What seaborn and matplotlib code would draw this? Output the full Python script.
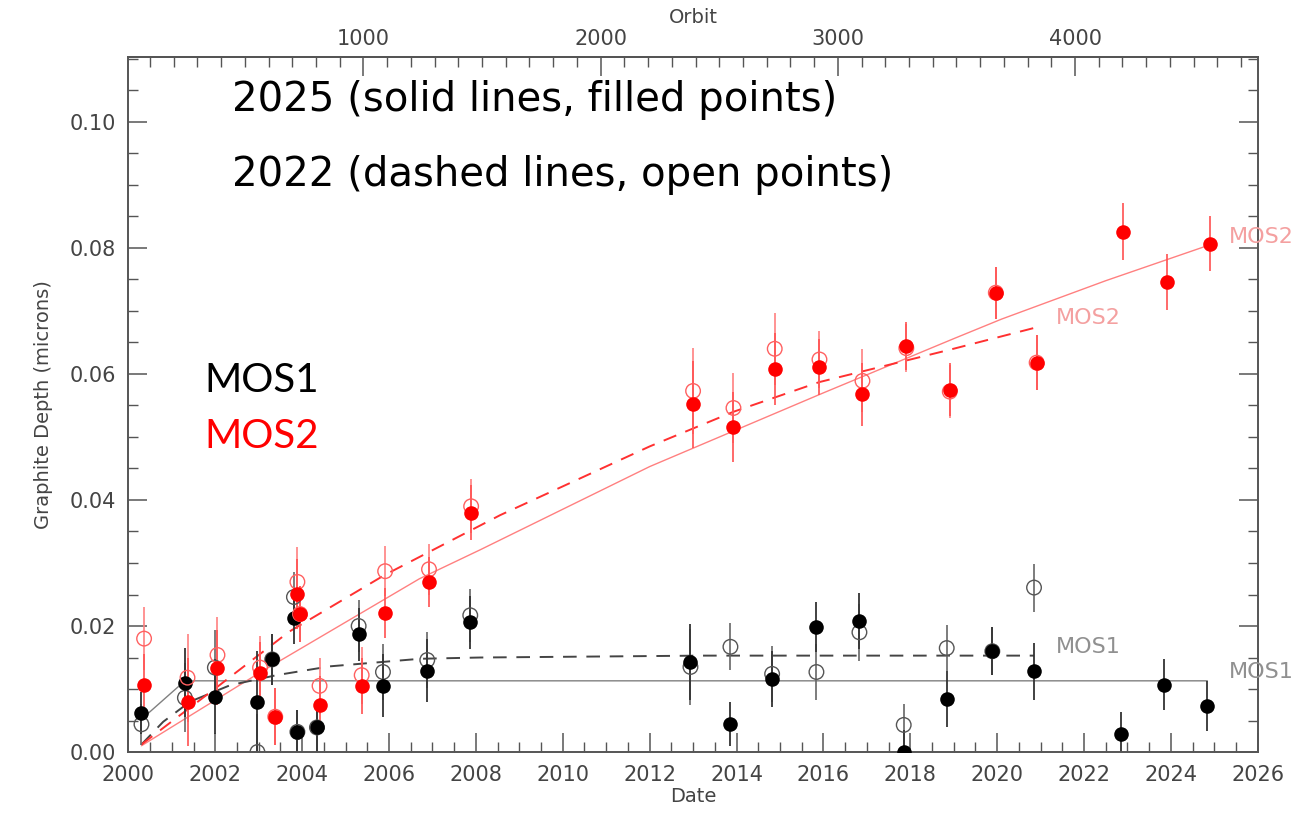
import matplotlib
matplotlib.use("Agg")
import matplotlib.pyplot as plt
from matplotlib.ticker import MultipleLocator, FormatStrFormatter, FixedLocator
import seaborn as sns

# MOS1 (black): observation dates, 2025 depths (filled) and 2022 depths (open)
mos1_dates = [2000.30, 2001.30, 2001.99, 2002.97, 2003.31, 2003.81, 2003.89, 2004.34,
              2005.30, 2005.86, 2006.88, 2007.87, 2012.94, 2013.86, 2014.82, 2015.84,
              2016.83, 2017.85, 2018.84, 2019.89, 2020.85, 2022.85, 2023.85, 2024.84]
mos1_2025 = [0.0062, 0.0110, 0.0088, 0.0080, 0.0147, 0.0212, 0.0032, 0.0039,
             0.0187, 0.0105, 0.0129, 0.0206, 0.0143, 0.0044, 0.0116, 0.0198,
             0.0208, 0.0000, 0.0084, 0.0160, 0.0128, 0.0028, 0.0107, 0.0073]
mos1_2025_err = [0.0033, 0.0055, 0.0060, 0.0080, 0.0040, 0.0040, 0.0035, 0.0040,
                 0.0042, 0.0050, 0.0050, 0.0042, 0.0060, 0.0035, 0.0045, 0.0040,
                 0.0045, 0.0035, 0.0045, 0.0038, 0.0045, 0.0035, 0.0040, 0.0040]
mos1_2022 = [0.0044, 0.0086, 0.0134, 0.0000, 0.0147, 0.0246, 0.0032, 0.0039,
             0.0200, 0.0127, 0.0146, 0.0217, 0.0135, 0.0167, 0.0124, 0.0127,
             0.0190, 0.0043, 0.0165, 0.0160, 0.0261]
mos1_2022_err = [0.0033, 0.0055, 0.0060, 0.0060, 0.0040, 0.0040, 0.0035, 0.0040,
                 0.0042, 0.0045, 0.0045, 0.0042, 0.0060, 0.0037, 0.0045, 0.0045,
                 0.0045, 0.0033, 0.0036, 0.0038, 0.0038]

# MOS2 (red)
mos2_dates = [2000.36, 2001.36, 2002.05, 2003.03, 2003.38, 2003.89, 2003.95, 2004.40,
              2005.37, 2005.91, 2006.92, 2007.89, 2013.00, 2013.93, 2014.88, 2015.91,
              2016.90, 2017.91, 2018.91, 2019.97, 2020.91, 2022.90, 2023.91, 2024.90]
mos2_2025 = [0.0106, 0.0080, 0.0134, 0.0125, 0.0056, 0.0251, 0.0219, 0.0075,
             0.0105, 0.0221, 0.0270, 0.0380, 0.0552, 0.0516, 0.0608, 0.0611,
             0.0568, 0.0644, 0.0575, 0.0729, 0.0618, 0.0826, 0.0746, 0.0807]
mos2_2025_err = [0.0050, 0.0070, 0.0060, 0.0050, 0.0045, 0.0055, 0.0045, 0.0045,
                 0.0045, 0.0040, 0.0040, 0.0043, 0.0069, 0.0055, 0.0057, 0.0045,
                 0.0050, 0.0038, 0.0042, 0.0041, 0.0044, 0.0045, 0.0045, 0.0043]
mos2_2022 = [0.0180, 0.0118, 0.0154, 0.0134, 0.0056, 0.0270, 0.0219, 0.0105,
             0.0122, 0.0287, 0.0290, 0.0390, 0.0573, 0.0546, 0.0640, 0.0623,
             0.0589, 0.0641, 0.0572, 0.0729, 0.0618]
mos2_2022_err = [0.0050, 0.0070, 0.0060, 0.0050, 0.0045, 0.0055, 0.0045, 0.0045,
                 0.0045, 0.0040, 0.0040, 0.0043, 0.0069, 0.0055, 0.0057, 0.0045,
                 0.0050, 0.0038, 0.0042, 0.0041, 0.0044]

# fitted curves
mos1_fit25_x = [2000.30, 2001.30, 2024.84]
mos1_fit25_y = [0.0052, 0.0113, 0.0113]
mos1_fit22_x = [2000.30, 2000.80, 2001.42, 2002.34, 2003.41, 2004.64, 2006.72, 2008.10, 2013.20, 2020.85]
mos1_fit22_y = [0.0012, 0.0048, 0.0080, 0.0106, 0.0122, 0.0136, 0.0148, 0.0150, 0.0153, 0.0153]
mos2_fit25_x = [2000.30, 2003.00, 2006.70, 2008.10, 2012.00, 2016.00, 2019.00, 2020.10, 2022.50, 2024.90]
mos2_fit25_y = [0.0010, 0.0125, 0.0275, 0.0321, 0.0453, 0.0570, 0.0656, 0.0687, 0.0748, 0.0805]
mos2_fit22_x = [2000.30, 2002.00, 2003.70, 2005.90, 2008.56, 2012.00, 2013.93, 2015.90, 2018.94, 2020.85]
mos2_fit22_y = [0.0012, 0.0101, 0.0191, 0.0281, 0.0376, 0.0485, 0.0540, 0.0587, 0.0639, 0.0673]

# orbit axis ticks
orbit_major = [1000, 2000, 3000, 4000]
orbit_minor = list(range(100, 4800, 100))

AXIS_GREY = "#555555"
TICK_TXT = "#444444"

sns.set_theme(style="ticks")
plt.rcParams["font.family"] = ["DejaVu Sans"]

fig = plt.figure(figsize=(13.04, 8.16), dpi=100)
ax = fig.add_axes([0.0985, 0.0784, 0.866, 0.8517])

# fits
sns.lineplot(x=mos1_fit25_x, y=mos1_fit25_y, ax=ax, color="#808080", lw=1.0, sort=False)
sns.lineplot(x=mos2_fit25_x, y=mos2_fit25_y, ax=ax, color="#ff8080", lw=1.0, sort=False)
ax.plot(mos1_fit22_x, mos1_fit22_y, color="#444444", lw=1.4, dashes=(7, 5))
ax.plot(mos2_fit22_x, mos2_fit22_y, color="#ff3030", lw=1.4, dashes=(7, 5))

# MOS1 points
ax.errorbar(mos1_dates[:len(mos1_2022)], mos1_2022, yerr=mos1_2022_err, fmt="none",
            ecolor="#666666", elinewidth=1.2, capsize=0)
ax.errorbar(mos1_dates, mos1_2025, yerr=mos1_2025_err, fmt="none",
            ecolor="#333333", elinewidth=1.3, capsize=0)
sns.scatterplot(x=mos1_dates[:len(mos1_2022)], y=mos1_2022, ax=ax, s=110,
                facecolor="none", edgecolor="#555555", linewidth=1.0, zorder=3)
sns.scatterplot(x=mos1_dates, y=mos1_2025, ax=ax, s=110, color="black",
                edgecolor="black", linewidth=0, zorder=4)

# MOS2 points
ax.errorbar(mos2_dates[:len(mos2_2022)], mos2_2022, yerr=mos2_2022_err, fmt="none",
            ecolor="#ff8080", elinewidth=1.2, capsize=0)
ax.errorbar(mos2_dates, mos2_2025, yerr=mos2_2025_err, fmt="none",
            ecolor="#ff5050", elinewidth=1.2, capsize=0)
sns.scatterplot(x=mos2_dates[:len(mos2_2022)], y=mos2_2022, ax=ax, s=110,
                facecolor="none", edgecolor="#ff6060", linewidth=1.0, zorder=5)
sns.scatterplot(x=mos2_dates, y=mos2_2025, ax=ax, s=110, color="#ff0000",
                edgecolor="#ff0000", linewidth=0, zorder=6)

# curve end labels
lab = dict(fontsize=16, va="center", ha="left", clip_on=False)
ax.text(2025.33, 0.0817, "MOS2", color="#f4a0a0", **lab)
ax.text(2021.35, 0.0689, "MOS2", color="#f4a0a0", **lab)
ax.text(2021.35, 0.0167, "MOS1", color="#909090", **lab)
ax.text(2025.33, 0.0127, "MOS1", color="#909090", **lab)

# big annotations
big = dict(fontsize=29, color="black", ha="left", va="center")
fig.text(0.178, 0.8775, "2025 (solid lines, filled points)", **big)
fig.text(0.178, 0.7855, "2022 (dashed lines, open points)", **big)
fig.text(0.157, 0.534, "MOS1", fontsize=29, color="black", va="center", family=["Lato", "DejaVu Sans"])
fig.text(0.157, 0.4645, "MOS2", fontsize=29, color="#ff0000", va="center", family=["Lato", "DejaVu Sans"])

# axes
ax.set_xlim(2000, 2026)
ax.set_ylim(0, 0.1103)
ax.xaxis.set_major_locator(MultipleLocator(2))
ax.xaxis.set_minor_locator(MultipleLocator(0.5))
ax.yaxis.set_major_locator(MultipleLocator(0.02))
ax.yaxis.set_minor_locator(MultipleLocator(0.005))
ax.yaxis.set_major_formatter(FormatStrFormatter("%.2f"))
ax.tick_params(which="both", direction="in", top=False, right=True,
               color=AXIS_GREY, labelcolor=TICK_TXT, labelsize=15)
ax.tick_params(which="major", length=14, width=1.1, pad=9)
ax.tick_params(which="minor", length=7, width=1.0)
for sp in ax.spines.values():
    sp.set_color(AXIS_GREY)
    sp.set_linewidth(1.4)

ax.set_xlabel("Date", fontsize=14, color=TICK_TXT, labelpad=2)
ax.set_ylabel("Graphite Depth (microns)", fontsize=14, color=TICK_TXT, labelpad=12)

# top axis in orbit number
def yr2orb(x):
    return (x - 1999.95) * 1000.0 / 5.461

def orb2yr(o):
    return o * 5.461 / 1000.0 + 1999.95

top = ax.secondary_xaxis("top", functions=(yr2orb, orb2yr))
top.xaxis.set_major_locator(FixedLocator(orbit_major))
top.xaxis.set_minor_locator(FixedLocator(orbit_minor))
top.tick_params(which="both", direction="in", color=AXIS_GREY, labelcolor=TICK_TXT, labelsize=15)
top.tick_params(which="major", length=14, width=1.1, pad=6)
top.tick_params(which="minor", length=7, width=1.0)
top.set_xlabel("Orbit", fontsize=14, color=TICK_TXT, labelpad=4)
top.spines["top"].set_color(AXIS_GREY)

fig.savefig("out.png", dpi=100)
